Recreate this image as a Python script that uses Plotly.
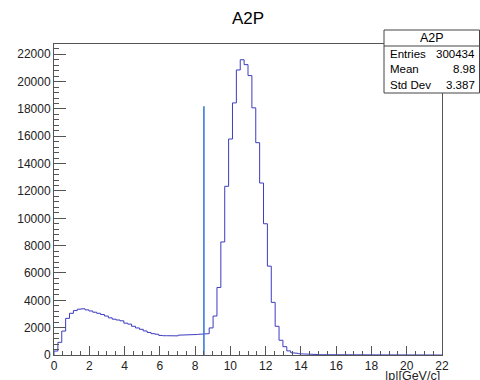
import numpy as np
import plotly.graph_objects as go

# ---------------- data ----------------
hist_title = "A2P"
x_min, x_max, n_bins = 0.0, 22.0, 100
counts = [
    290, 925, 1750, 2680, 3050, 3250, 3350, 3380, 3300, 3220,
    3130, 3050, 2960, 2850, 2720, 2620, 2560, 2500, 2330, 2260,
    2100, 1980, 1880, 1760, 1650, 1560, 1520, 1430, 1410, 1400,
    1410, 1400, 1450, 1500, 1460, 1480, 1500, 1510, 1530, 1560,
    1980, 2850, 4940, 8270, 12340, 15800, 18440, 20850, 21600, 21240,
    20440, 18080, 15530, 12580, 9600, 6500, 3850, 2100, 1080, 610,
    300, 170, 120, 90, 70, 55, 45, 35, 20, 10,
    0, 0, 0, 0, 0, 0, 0, 0, 0, 0,
    0, 0, 0, 0, 0, 0, 0, 0, 0, 0,
    0, 0, 0, 0, 0, 0, 0, 0, 0, 0,
]
cut_x = 8.5
cut_height = 18200
stats_labels = ["Entries", "Mean", "Std Dev"]
stats_values = ["300434", "8.98", "3.387"]
x_title = "|p|[GeV/c]"
y_max = 22750

# ---------------- figure ----------------
edges = np.linspace(x_min, x_max, n_bins + 1)
xs = [edges[0]]
ys = [0]
for i, c in enumerate(counts):
    xs += [edges[i], edges[i + 1]]
    ys += [c, c]
xs.append(edges[-1])
ys.append(0)

FONT = "Liberation Sans, Arial, Helvetica, sans-serif"
L, R, T, B = 54, 38, 44, 25
W, H = 480, 380
pw, ph = W - L - R, H - T - B


def px(x):
    return (x - L) / pw


def py(y):
    return (H - B - y) / ph


fig = go.Figure()
fig.add_trace(go.Scatter(x=xs, y=ys, mode="lines",
                         line=dict(color="#3c3cc0", width=1), hoverinfo="skip"))
fig.add_trace(go.Scatter(x=[cut_x, cut_x], y=[0, cut_height], mode="lines",
                         line=dict(color="#3a7bd5", width=1.6), hoverinfo="skip"))

axcommon = dict(showgrid=False, zeroline=False, showline=True, linecolor="#555",
                linewidth=1, mirror=True, ticks="inside", tickcolor="#555",
                automargin=False,
                tickfont=dict(family=FONT, size=12, color="#222"))
fig.update_xaxes(range=[x_min, x_max], dtick=2, tick0=0, ticklen=9,
                 minor=dict(dtick=0.5, ticklen=4, ticks="inside", tickcolor="#555"),
                 **axcommon)
fig.update_yaxes(range=[0, y_max], dtick=2000, tick0=0, ticklen=12, tickformat="d",
                 minor=dict(dtick=400, ticklen=5, ticks="inside", tickcolor="#555"),
                 **axcommon)

box_top, box_div, box_bot = 30, 46, 93
shapes = [
    dict(type="rect", xref="paper", yref="paper", x0=px(384), x1=px(479.5),
         y0=py(box_bot), y1=py(box_top), line=dict(color="#444", width=1),
         fillcolor="white", layer="above"),
    dict(type="line", xref="paper", yref="paper", x0=px(384), x1=px(479.5),
         y0=py(box_div), y1=py(box_div), line=dict(color="#444", width=1),
         layer="above"),
]
ann = [
    dict(text=hist_title, xref="paper", yref="paper", x=px(248), y=py(19),
         showarrow=False, xanchor="center", yanchor="middle",
         font=dict(family=FONT, size=17, color="black")),
    dict(text=hist_title, xref="paper", yref="paper", x=px(431.5), y=py(38),
         showarrow=False, xanchor="center", yanchor="middle",
         font=dict(family=FONT, size=12.5, color="black")),
    dict(text=x_title, xref="paper", yref="paper", x=px(442), y=py(376),
         showarrow=False, xanchor="right", yanchor="middle",
         font=dict(family=FONT, size=12.5, color="#222")),
]
for i, (lab, val) in enumerate(zip(stats_labels, stats_values)):
    yy = py(54 + 15.5 * i)
    ann.append(dict(text=lab, xref="paper", yref="paper", x=px(387.5), y=yy,
                    showarrow=False, xanchor="left", yanchor="middle",
                    font=dict(family=FONT, size=11.5, color="black")))
    ann.append(dict(text=val, xref="paper", yref="paper", x=px(477.5), y=yy,
                    showarrow=False, xanchor="right", yanchor="middle",
                    font=dict(family=FONT, size=11.5, color="black")))

fig.update_layout(width=W, height=H, margin=dict(l=L, r=R, t=T, b=B),
                  paper_bgcolor="white", plot_bgcolor="white", showlegend=False,
                  shapes=shapes, annotations=ann)
fig.write_html("out.html")
